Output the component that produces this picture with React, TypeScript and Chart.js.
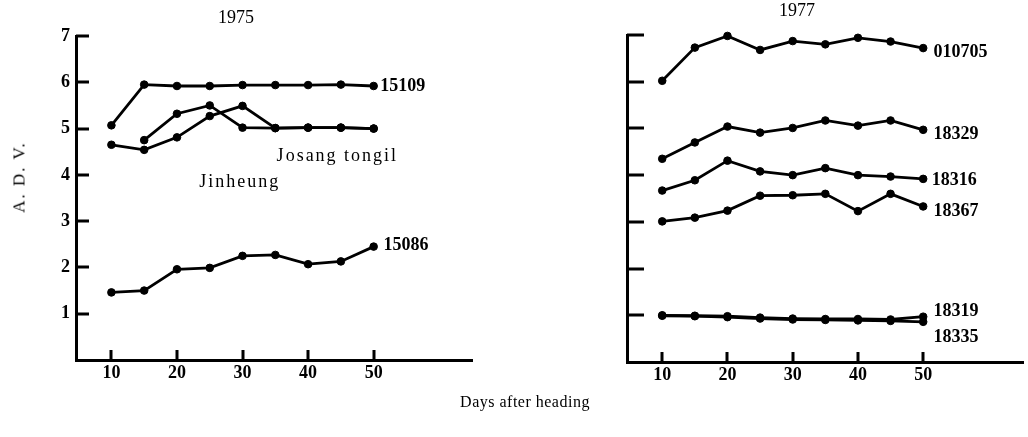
import React, { useEffect, useRef } from 'react';
import { Chart, registerables } from 'chart.js';

Chart.register(...registerables);

const FONT = '"Liberation Serif", "Times New Roman", serif';

// Days after heading (x values shared by every series)
const days = [10, 15, 20, 25, 30, 35, 40, 45, 50];
const xTicks = [10, 20, 30, 40, 50];
const yTicks = [1, 2, 3, 4, 5, 6, 7];

// 1975
const s15109 = [5.07, 5.95, 5.92, 5.92, 5.94, 5.94, 5.94, 5.95, 5.92];
const josangTongil = [null, 4.75, 5.32, 5.5, 5.02, 5.01, 5.02, 5.02, 5.0];
const jinheung = [4.65, 4.54, 4.81, 5.27, 5.49, 5.01, 5.02, 5.02, 5.0];
const s15086 = [1.46, 1.5, 1.96, 1.99, 2.25, 2.27, 2.07, 2.13, 2.45];

// 1977
const s010705 = [6.02, 6.73, 6.98, 6.68, 6.87, 6.8, 6.94, 6.86, 6.72];
const s18329 = [4.35, 4.7, 5.04, 4.91, 5.01, 5.17, 5.06, 5.17, 4.97];
const s18316 = [3.67, 3.89, 4.31, 4.08, 4.0, 4.15, 4.0, 3.97, 3.92];
const s18367 = [3.01, 3.09, 3.24, 3.56, 3.57, 3.6, 3.23, 3.6, 3.33];
const s18319 = [1.0, 0.99, 0.98, 0.95, 0.93, 0.92, 0.92, 0.91, 0.97];
const s18335 = [0.99, 0.98, 0.96, 0.93, 0.91, 0.9, 0.89, 0.88, 0.86];

// Series names written next to the lines (placed in data coordinates)
const labels1975 = [
  { text: '15109', x: 51.0, y: 5.92 },
  { text: '15086', x: 51.5, y: 2.47 },
  { text: 'Josang tongil', x: 35.2, y: 4.4 },
  { text: 'Jinheung', x: 23.4, y: 3.85 },
];
const labels1977 = [
  { text: '010705', x: 51.6, y: 6.62 },
  { text: '18329', x: 51.6, y: 4.88 },
  { text: '18316', x: 51.3, y: 3.88 },
  { text: '18367', x: 51.6, y: 3.23 },
  { text: '18319', x: 51.6, y: 1.08 },
  { text: '18335', x: 51.6, y: 0.52 },
];

const panelMarks = {
  id: 'panelMarks',
  afterDatasetsDraw(chart: any, _args: any, opts: any) {
    const { ctx, chartArea, scales } = chart;
    const xs = scales.x;
    const ys = scales.y;
    ctx.save();
    ctx.strokeStyle = '#000';
    ctx.lineWidth = 3;
    ctx.beginPath();
    ys.ticks.forEach((t: any) => {
      const py = Math.round(ys.getPixelForValue(t.value));
      ctx.moveTo(chartArea.left, py);
      ctx.lineTo(chartArea.left + opts.yLen, py);
    });
    xs.ticks.forEach((t: any) => {
      const px = Math.round(xs.getPixelForValue(t.value));
      ctx.moveTo(px, chartArea.bottom);
      ctx.lineTo(px, chartArea.bottom - opts.xLen);
    });
    ctx.stroke();
    ctx.fillStyle = '#000';
    ctx.textBaseline = 'middle';
    ctx.textAlign = 'left';
    (opts.labels || []).forEach((l: any) => {
      const isWord = /[a-z]/i.test(l.text);
      ctx.font = isWord ? `18px ${FONT}` : `bold 18px ${FONT}`;
      (ctx as any).letterSpacing = isWord ? '2px' : '0px';
      ctx.fillText(l.text, xs.getPixelForValue(l.x), ys.getPixelForValue(l.y));
    });
    ctx.restore();
  },
};

function makeConfig(p: any) {
  return {
    type: 'line',
    data: {
      datasets: p.series.map((s: any) => ({
        label: s.name,
        data: days.map((d, i) => ({ x: d, y: s.values[i] })),
        borderColor: '#000',
        backgroundColor: '#000',
        borderWidth: 2.8,
        pointRadius: 3.8,
        pointBackgroundColor: '#000',
        pointBorderColor: '#000',
        pointBorderWidth: 1,
        tension: 0,
        spanGaps: false,
        clip: false,
      })),
    },
    options: {
      animation: false,
      responsive: false,
      events: [],
      layout: { padding: { left: p.padLeft, right: p.padRight, top: 0, bottom: 0 } },
      plugins: {
        legend: { display: false },
        tooltip: { enabled: false },
        title: {
          display: true,
          text: p.title,
          color: '#000',
          font: { family: FONT, size: 18, weight: 'normal' },
          padding: { top: p.titleTop, bottom: p.titleBottom },
        },
        panelMarks: { labels: p.labels, yLen: p.yTickLen, xLen: 10 },
      },
      scales: {
        x: {
          type: 'linear',
          min: p.xMin,
          max: p.xMax,
          grid: { display: false, drawTicks: false },
          border: { display: true, color: '#000', width: 3 },
          ticks: { color: '#000', font: { family: FONT, size: 18, weight: 'bold' }, padding: 3, maxRotation: 0, autoSkip: false },
          afterBuildTicks: (s: any) => { s.ticks = xTicks.map((v) => ({ value: v })); },
          afterFit: (s: any) => { s.height = p.xAxisHeight; },
        },
        y: {
          type: 'linear',
          min: 0,
          max: 7,
          grid: { display: false, drawTicks: false },
          border: { display: true, color: '#000', width: 3 },
          ticks: { display: p.showYLabels, color: '#000', font: { family: FONT, size: 18, weight: 'bold' }, padding: 6 },
          afterBuildTicks: (s: any) => { s.ticks = yTicks.map((v) => ({ value: v })); },
          afterFit: (s: any) => { s.width = p.yAxisWidth; },
        },
      },
    },
    plugins: [panelMarks],
  };
}

export default function App() {
  const leftRef = useRef<HTMLCanvasElement>(null);
  const rightRef = useRef<HTMLCanvasElement>(null);

  useEffect(() => {
    const c1 = new Chart(leftRef.current as HTMLCanvasElement, makeConfig({
      title: '1975',
      series: [
        { name: '15109', values: s15109 },
        { name: 'Josang tongil', values: josangTongil },
        { name: 'Jinheung', values: jinheung },
        { name: '15086', values: s15086 },
      ],
      labels: labels1975,
      padLeft: 0, padRight: 42, yAxisWidth: 76, xAxisHeight: 77,
      titleTop: 7, titleBottom: 7.4, xMin: 4.6, xMax: 65, yTickLen: 13, showYLabels: true,
    }) as any);
    const c2 = new Chart(rightRef.current as HTMLCanvasElement, makeConfig({
      title: '1977',
      series: [
        { name: '010705', values: s010705 },
        { name: '18329', values: s18329 },
        { name: '18316', values: s18316 },
        { name: '18367', values: s18367 },
        { name: '18319', values: s18319 },
        { name: '18335', values: s18335 },
      ],
      labels: labels1977,
      padLeft: 52, padRight: 0, yAxisWidth: 61, xAxisHeight: 75,
      titleTop: 0.5, titleBottom: 12.9, xMin: 4.6, xMax: 65.3, yTickLen: 17, showYLabels: false,
    }) as any);
    return () => { c1.destroy(); c2.destroy(); };
  }, []);

  return (
    <div style={{ position: 'fixed', left: 0, top: 0, width: 1028, height: 437, background: '#fff', overflow: 'hidden' }}>
      <canvas ref={leftRef} width={514} height={437} style={{ position: 'absolute', left: 0, top: 0 }} />
      <canvas ref={rightRef} width={514} height={437} style={{ position: 'absolute', left: 514, top: 0 }} />
      <div style={{
        position: 'absolute', left: 19, top: 177, transform: 'translate(-50%, -50%) rotate(-90deg)',
        fontFamily: FONT, fontSize: 17, letterSpacing: '2px', whiteSpace: 'nowrap', color: '#000', lineHeight: 1,
      }}>A. D. V.</div>
      <div style={{
        position: 'absolute', left: 525, top: 402, transform: 'translate(-50%, -50%)',
        fontFamily: FONT, fontSize: 16, letterSpacing: '0.5px', whiteSpace: 'nowrap', color: '#000', lineHeight: 1,
      }}>Days after heading</div>
    </div>
  );
}
